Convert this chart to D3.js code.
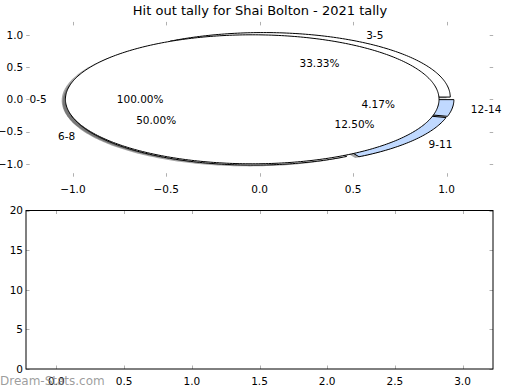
<!DOCTYPE html>
<html><head><meta charset="utf-8">
<script src="https://cdn.jsdelivr.net/npm/d3@7"></script>
<style>
html,body{margin:0;padding:0;background:#fff;}
text{font-family:"DejaVu Sans",sans-serif;}
</style></head>
<body>
<svg id="chart" width="520" height="390"></svg>
<script>
const title = "Hit out tally for Shai Bolton - 2021 tally";
const sliceLabels = ["0-5", "3-5", "6-8", "9-11", "12-14"];
const slicePercents = [100.00, 33.33, 50.00, 12.50, 4.17];
const pieXTicks = [-1.0, -0.5, 0.0, 0.5, 1.0];
const pieYTicks = [-1.0, -0.5, 0.0, 0.5, 1.0];
const barXTicks = [0.0, 0.5, 1.0, 1.5, 2.0, 2.5, 3.0];
const barYTicks = [0, 5, 10, 15, 20];
const watermark = "Dream-Stats.com";

const explodeBy = 0.04;
const sliceColors = ["#ffffff", "#ffffff", "#ffffff", "#c0d9ff", "#c0d9ff"];

const svg = d3.select("#chart");
const fs = 10.5;

// ---------- top pie axes ----------
const px = d3.scaleLinear().domain([-1.25, 1.25]).range([26.2, 493.2]);
const py = d3.scaleLinear().domain([-1.2, 1.2]).range([176.7, 21.9]);

svg.append("text").attr("x", 260).attr("y", 14.5).attr("text-anchor", "middle")
  .attr("font-size", 13).text(title);

// wedges
let cum = 0;
const wedges = slicePercents.map((p, i) => {
  const t1 = cum, t2 = cum + p / 100 * 360;
  cum = t2;
  const tm = (t1 + t2) / 2 * Math.PI / 180;
  return {i, label: sliceLabels[i], pct: p, t1, t2, tm,
          cx: explodeBy * Math.cos(tm), cy: explodeBy * Math.sin(tm)};
});

function wedgePts(w, ox, oy) {
  const pts = [];
  const full = Math.abs((w.t2 - w.t1) - 360) < 1e-6;
  if (!full) pts.push([w.cx + ox, w.cy + oy]);
  const n = Math.max(8, Math.ceil((w.t2 - w.t1)));
  for (let k = 0; k <= n; k++) {
    const a = (w.t1 + (w.t2 - w.t1) * k / n) * Math.PI / 180;
    pts.push([w.cx + ox + Math.cos(a), w.cy + oy + Math.sin(a)]);
  }
  return pts;
}
const line = d3.line().x(d => px(d[0])).y(d => py(d[1])).curve(d3.curveLinearClosed);

const gPie = svg.append("g");
// shadows
gPie.selectAll("path.shadow").data(wedges).join("path").attr("class", "shadow")
  .attr("d", w => line(wedgePts(w, -0.02, -0.02)))
  .attr("fill", "rgb(76,76,76)").attr("fill-opacity", 0.5).attr("stroke", "none");
// wedges: full-turn slice drawn last
const order = wedges.slice(1).concat([wedges[0]]);
gPie.selectAll("path.wedge").data(order).join("path").attr("class", "wedge")
  .attr("d", w => line(wedgePts(w, 0, 0)))
  .attr("fill", w => sliceColors[w.i]).attr("stroke", "#000").attr("stroke-width", 1)
  .attr("stroke-linejoin", "miter");

// labels
gPie.selectAll("text.lab").data(wedges).join("text").attr("class", "lab")
  .attr("x", w => px(w.cx + 1.1 * Math.cos(w.tm)))
  .attr("y", w => py(w.cy + 1.1 * Math.sin(w.tm)))
  .attr("dy", "0.36em")
  .attr("text-anchor", w => Math.cos(w.tm) > 0 ? "start" : "end")
  .attr("font-size", fs).text(w => w.label);
gPie.selectAll("text.pct").data(wedges).join("text").attr("class", "pct")
  .attr("x", w => px(w.cx + 0.6 * Math.cos(w.tm)))
  .attr("y", w => py(w.cy + 0.6 * Math.sin(w.tm)))
  .attr("dy", "0.36em").attr("text-anchor", "middle")
  .attr("font-size", fs).text(w => w.pct.toFixed(2) + "%");

const tickCol = "#b0b0b0";
const fmt1 = d3.format(".1f");
function drawTicks(xs, ys, xt, yt, fmtX, fmtY) {
  const [x0, x1] = xs.range(), [y0, y1] = ys.range(); // y0 bottom, y1 top
  const g = svg.append("g");
  xt.forEach(v => {
    const X = Math.round(xs(v)) + 0.5;
    g.append("line").attr("x1", X).attr("x2", X).attr("y1", y0).attr("y2", y0 - 3.5).attr("stroke", tickCol);
    g.append("line").attr("x1", X).attr("x2", X).attr("y1", y1).attr("y2", y1 + 3.5).attr("stroke", tickCol);
    g.append("text").attr("x", xs(v)).attr("y", y0 + 8.5).attr("dy", "0.71em")
      .attr("text-anchor", "middle").attr("font-size", fs).text(fmtX(v));
  });
  yt.forEach(v => {
    const Y = Math.round(ys(v)) + 0.5;
    g.append("line").attr("x1", x0).attr("x2", x0 + 3.5).attr("y1", Y).attr("y2", Y).attr("stroke", tickCol);
    g.append("line").attr("x1", x1).attr("x2", x1 - 3.5).attr("y1", Y).attr("y2", Y).attr("stroke", tickCol);
    g.append("text").attr("x", x0 - 3).attr("y", ys(v)).attr("dy", "0.36em")
      .attr("text-anchor", "end").attr("font-size", fs).text(fmtY(v));
  });
}
drawTicks(px, py, pieXTicks, pieYTicks, fmt1, fmt1);

// ---------- bottom axes ----------
const bx = d3.scaleLinear().domain([-0.225, 3.225]).range([26, 493]);
const by = d3.scaleLinear().domain([0, 20]).range([369, 210.5]);
drawTicks(bx, by, barXTicks, barYTicks, fmt1, d3.format("d"));
svg.append("rect").attr("x", 26).attr("y", 210.5).attr("width", 467).attr("height", 158.5)
  .attr("fill", "none").attr("stroke", "#000").attr("stroke-width", 1);

svg.append("text").attr("x", 0).attr("y", 384.5).attr("font-size", 12)
  .attr("fill", "#8c8c8c").attr("fill-opacity", 0.85).text(watermark);
</script>
</body></html>
